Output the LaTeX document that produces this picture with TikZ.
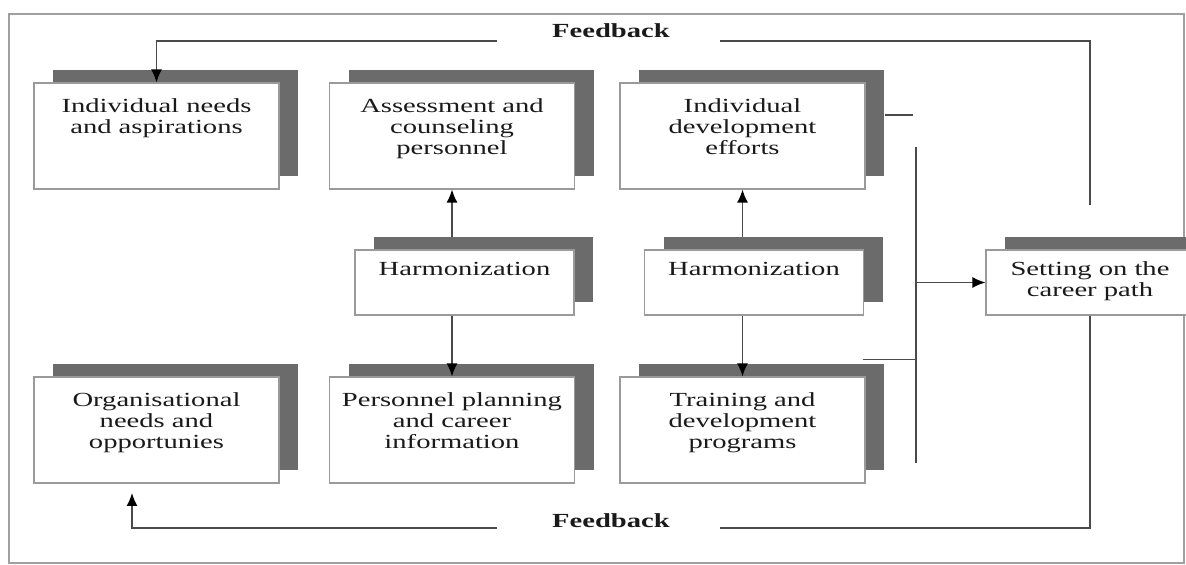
\documentclass[tikz,border=0pt]{standalone}
\usepackage{fontspec}
\setmainfont{Liberation Serif}[FakeStretch=1.43]
\usetikzlibrary{positioning,shadows,arrows.meta,calc}
\definecolor{CareerInk}{HTML}{1A1A1A}
\definecolor{CareerLine}{HTML}{4A4A4A}
\definecolor{CareerEdge}{HTML}{9A9A9A}
\definecolor{CareerShade}{HTML}{6B6B6B}
\definecolor{CareerFrame}{HTML}{A0A0A0}
\tikzset{
  careerbox/.style={draw=CareerEdge, line width=0.6pt, fill=white, inner sep=0pt,
    minimum width=122.5pt, minimum height=53pt,
    general shadow={shadow xshift=9.5pt, shadow yshift=6.5pt, fill=CareerShade}},
  harmbox/.style={careerbox, minimum width=109.5pt, minimum height=32.5pt},
  boxtxt/.style={align=center, inner sep=0pt, text=CareerInk, font=\fontsize{10}{10.5}\selectfont},
  fbtxt/.style={text=CareerInk, font=\fontsize{10}{12}\selectfont\bfseries},
  link/.style={draw=CareerLine, line width=0.7pt},
  linkarrow/.style={link, -{Latex[length=6.5pt,width=5.5pt,color=black]}}
}
\begin{document}
\begin{tikzpicture}[x=0.5pt,y=0.5pt]
  \useasboundingbox (0,0) rectangle (1186,565);
  \draw[CareerFrame, line width=0.8pt] (9,2) rectangle (1184,551);
  % boxes
  \foreach \name/\x/\y in {ind/156.5/429,ass/452/429,dev/742.5/429,org/156.5/135,per/452/135,tra/742.5/135} {
    \node[careerbox] (\name) at (\x,\y) {};
  }
  \node[harmbox] (harm1) at (464.5,282.5) {};
  \node[harmbox] (harm2) at (754,282.5) {};
  \node[harmbox, minimum width=104pt] (career) at (1090,282.5) {};
  % texts
  \foreach \name/\txt in {ind/{Individual needs\\and aspirations},
      ass/{Assessment and\\counseling\\personnel},
      dev/{Individual\\development\\efforts},
      org/{Organisational\\needs and\\opportunies},
      per/{Personnel planning\\and career\\information},
      tra/{Training and\\development\\programs}} {
    \node[boxtxt, below=8pt of \name.north] (\name-t) {\txt};
  }
  \foreach \name/\txt in {harm1/Harmonization, harm2/Harmonization, career/{Setting on the\\career path}} {
    \node[boxtxt, below=6pt of \name.north] (\name-t) {\txt};
  }
  \node[fbtxt] (fbTop) at (611,534) {Feedback};
  \node[fbtxt] (fbBot) at (611,44) {Feedback};
  % feedback loops
  \coordinate (fbTopL) at (497,524);
  \coordinate (fbTopR) at (720,524);
  \coordinate (fbRTop) at (1090,360);
  \coordinate (fbBotL) at (497,37);
  \coordinate (fbBotR) at (720,37);
  \coordinate (orgIn) at (132,72);
  \draw[linkarrow] (fbTopL) -| (ind.north);
  \draw[link] (fbRTop) |- (fbTopR);
  \draw[link] (career.south) |- (fbBotR);
  \draw[linkarrow] (fbBotL) -| (orgIn);
  % harmonization
  \draw[linkarrow] ($(harm1.north -| ass.south)+(0,12)$) -- (ass.south);
  \draw[linkarrow] (harm1.south -| per.north) -- (per.north);
  \draw[linkarrow] ($(harm2.north -| dev.south)+(0,12)$) -- (dev.south);
  \draw[linkarrow] (harm2.south -| tra.north) -- (tra.north);
  % bus to career path
  \coordinate (busTop) at (916,418);
  \coordinate (busBot) at (916,102);
  \coordinate (devEnd) at (913,450);
  \coordinate (traOut) at ($(tra.north east)+(-3,17)$);
  \draw[link] (busTop) -- (busBot);
  \draw[link] ($(dev.east)+(19,21)$) -- (devEnd);
  \draw[link] (traOut) -- (traOut -| busTop);
  \draw[linkarrow] (career.west -| busTop) -- (career.west);
\end{tikzpicture}
\end{document}
